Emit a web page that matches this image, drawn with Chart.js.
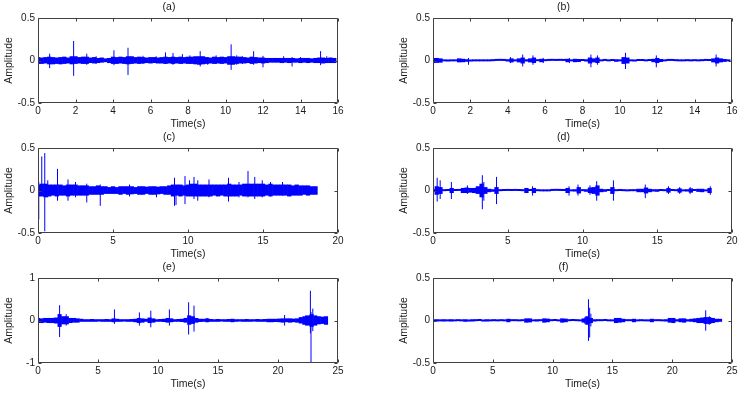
<!DOCTYPE html>
<html><head><meta charset="utf-8">
<script src="https://cdn.jsdelivr.net/npm/chart.js@4.4.1/dist/chart.umd.min.js"></script>
<style>
html,body{margin:0;padding:0;background:#fff;width:741px;height:393px;overflow:hidden;}
canvas{position:absolute;}
</style></head><body>
<canvas id="ca" width="370" height="130" style="left:0;top:0"></canvas>
<canvas id="cb" width="346" height="130" style="left:395px;top:0"></canvas>
<canvas id="cc" width="370" height="130" style="left:0;top:130px"></canvas>
<canvas id="cd" width="346" height="130" style="left:395px;top:130px"></canvas>
<canvas id="ce" width="370" height="133" style="left:0;top:260px"></canvas>
<canvas id="cf" width="346" height="133" style="left:395px;top:260px"></canvas>
<script>
// ===== data =====
// core band: per time-bin upper (Hi) and lower (Lo) amplitude of the dense signal
// spikes: isolated peaks (time, top, bottom)

// (a)
const aStep = 0.2;
const aCoreHi = [0.04,0.035,0.04,0.045,0.04,0.035,0.04,0.045,0.035,0.05,
 0.05,0.04,0.045,0.045,0.035,0.04,0.03,0.035,0.025,0.03,
 0.045,0.04,0.045,0.04,0.05,0.05,0.04,0.045,0.04,0.035,
 0.04,0.04,0.035,0.04,0.045,0.04,0.045,0.04,0.045,0.04,
 0.045,0.045,0.05,0.05,0.05,0.04,0.035,0.045,0.04,0.045,
 0.04,0.05,0.05,0.045,0.045,0.04,0.035,0.045,0.04,0.035,
 0.035,0.03,0.03,0.03,0.03,0.03,0.03,0.03,0.03,0.025,
 0.03,0.03,0.03,0.025,0.03,0.035,0.035,0.03,0.035,0.03];
const aCoreLo = [-0.04,-0.04,-0.035,-0.045,-0.045,-0.04,-0.045,-0.04,-0.035,-0.045,
 -0.04,-0.035,-0.04,-0.04,-0.03,-0.035,-0.03,-0.025,-0.02,-0.03,
 -0.04,-0.04,-0.035,-0.04,-0.045,-0.04,-0.035,-0.04,-0.035,-0.03,
 -0.035,-0.03,-0.035,-0.035,-0.04,-0.035,-0.04,-0.035,-0.04,-0.035,
 -0.04,-0.04,-0.045,-0.05,-0.045,-0.04,-0.035,-0.04,-0.035,-0.04,
 -0.035,-0.05,-0.05,-0.04,-0.035,-0.035,-0.03,-0.04,-0.035,-0.03,
 -0.035,-0.03,-0.025,-0.025,-0.025,-0.03,-0.025,-0.03,-0.025,-0.025,
 -0.03,-0.025,-0.03,-0.025,-0.03,-0.03,-0.035,-0.03,-0.03,-0.03];
const aSpikeT  = [0.62,1.9,2.6,3.1,4.05,4.8,5.6,6.3,6.8,7.2,7.7,8.1,8.65,9.05,9.5,10.3,10.6,10.9,11.5,12.0,13.1,13.55,14.0,15.07,15.4];
const aSpikeHi = [0.08,0.23,0.08,0.05,0.12,0.15,0.055,0.05,0.095,0.087,0.075,0.06,0.11,0.04,0.06,0.19,0.06,0.05,0.11,0.055,0.05,0.04,0.04,0.11,0.05];
const aSpikeLo = [-0.09,-0.18,-0.05,-0.04,-0.055,-0.17,-0.04,-0.03,-0.04,-0.05,-0.04,-0.04,-0.07,-0.05,-0.04,-0.11,-0.05,-0.04,-0.05,-0.08,-0.03,-0.07,-0.03,-0.055,-0.03];

// (b)
const bStep = 0.2;
const bCoreHi = [0.03,0.03,0.025,0.01,0.012,0.01,0.012,0.025,0.02,0.015,
 0.012,0.012,0.01,0.012,0.01,0.012,0.008,0.005,0.004,0.005,
 0.015,0.025,0.012,0.025,0.035,0.015,0.025,0.035,0.01,0.02,
 0.008,0.005,0.004,0.005,0.004,0.005,0.02,0.01,0.02,0.018,
 0.006,0.015,0.035,0.025,0.035,0.01,0.005,0.012,0.006,0.015,
 0.01,0.04,0.035,0.012,0.012,0.006,0.008,0.012,0.006,0.02,
 0.03,0.018,0.01,0.005,0.006,0.01,0.01,0.012,0.01,0.012,
 0.01,0.012,0.008,0.006,0.008,0.025,0.035,0.025,0.018,0.012];
const bCoreLo = [-0.03,-0.028,-0.025,-0.01,-0.012,-0.01,-0.01,-0.022,-0.02,-0.015,
 -0.012,-0.01,-0.01,-0.01,-0.01,-0.01,-0.008,-0.005,-0.004,-0.005,
 -0.012,-0.022,-0.01,-0.022,-0.035,-0.012,-0.022,-0.03,-0.008,-0.02,
 -0.008,-0.005,-0.004,-0.005,-0.004,-0.005,-0.02,-0.01,-0.02,-0.018,
 -0.006,-0.012,-0.035,-0.022,-0.03,-0.01,-0.005,-0.01,-0.006,-0.015,
 -0.01,-0.04,-0.035,-0.01,-0.012,-0.006,-0.006,-0.01,-0.006,-0.02,
 -0.03,-0.018,-0.01,-0.005,-0.005,-0.008,-0.01,-0.01,-0.008,-0.01,
 -0.008,-0.01,-0.008,-0.005,-0.006,-0.022,-0.035,-0.022,-0.016,-0.01];
const bSpikeT  = [0.02,1.9,4.15,4.8,5.35,5.9,7.3,8.45,8.8,10.3,11.95,15.15];
const bSpikeHi = [0.2,0.03,0.04,0.07,0.06,0.03,0.03,0.07,0.06,0.09,0.06,0.07];
const bSpikeLo = [-0.2,-0.05,-0.03,-0.07,-0.05,-0.03,-0.03,-0.08,-0.05,-0.1,-0.08,-0.07];

// (c)
const cStep = 0.25;
const cCoreHi = [0.07,0.08,0.08,0.07,0.07,0.07,0.07,0.06,0.07,0.07,
 0.07,0.06,0.06,0.06,0.05,0.05,0.06,0.05,0.05,0.04,
 0.05,0.04,0.05,0.05,0.05,0.05,0.04,0.05,0.05,0.045,
 0.05,0.05,0.045,0.05,0.05,0.06,0.07,0.07,0.07,0.06,
 0.07,0.08,0.08,0.07,0.07,0.07,0.07,0.07,0.07,0.07,
 0.07,0.08,0.07,0.07,0.07,0.08,0.08,0.08,0.08,0.08,
 0.08,0.07,0.08,0.07,0.07,0.07,0.07,0.07,0.06,0.07,
 0.06,0.06,0.06,0.05,0.05];
const cCoreLo = [-0.07,-0.07,-0.08,-0.07,-0.06,-0.07,-0.06,-0.06,-0.07,-0.06,
 -0.06,-0.06,-0.06,-0.06,-0.05,-0.05,-0.05,-0.05,-0.04,-0.04,
 -0.04,-0.04,-0.05,-0.04,-0.05,-0.045,-0.04,-0.05,-0.05,-0.04,
 -0.05,-0.05,-0.045,-0.04,-0.05,-0.05,-0.07,-0.06,-0.07,-0.06,
 -0.07,-0.07,-0.07,-0.07,-0.07,-0.07,-0.07,-0.06,-0.07,-0.06,
 -0.07,-0.07,-0.07,-0.07,-0.06,-0.07,-0.07,-0.07,-0.07,-0.07,
 -0.07,-0.06,-0.07,-0.06,-0.06,-0.06,-0.06,-0.07,-0.06,-0.06,
 -0.06,-0.05,-0.06,-0.05,-0.05];
const cSpikeT  = [0.05,0.25,0.45,0.65,1.3,2.0,2.5,3.25,4.15,6.1,7.9,9.1,9.2,9.8,10.1,10.4,10.65,11.4,12.7,13.4,14.0,14.45,14.95,15.5,16.3];
const cSpikeHi = [0.1,0.4,0.44,0.12,0.255,0.13,0.1,0.08,0.07,0.07,0.04,0.15,0.06,0.17,0.12,0.16,0.12,0.13,0.15,0.1,0.23,0.16,0.12,0.1,0.1];
const cSpikeLo = [-0.34,-0.05,-0.48,-0.08,-0.12,-0.12,-0.08,-0.14,-0.18,-0.07,-0.08,-0.18,-0.17,-0.16,-0.06,-0.1,-0.12,-0.08,-0.13,-0.08,-0.08,-0.1,-0.08,-0.07,-0.06];

// (d)
const dStep = 0.25;
const dCoreHi = [0.008,0.05,0.04,0.008,0.006,0.03,0.008,0.005,0.03,0.035,
 0.03,0.03,0.05,0.08,0.04,0.02,0.015,0.04,0.01,0.006,
 0.005,0.006,0.005,0.006,0.01,0.03,0.008,0.03,0.01,0.012,
 0.01,0.012,0.005,0.004,0.005,0.006,0.03,0.012,0.015,0.04,
 0.01,0.015,0.035,0.04,0.06,0.02,0.015,0.008,0.04,0.008,
 0.006,0.01,0.01,0.008,0.01,0.02,0.02,0.035,0.02,0.015,
 0.015,0.008,0.01,0.03,0.008,0.01,0.025,0.012,0.015,0.025,
 0.008,0.02,0.02,0.012,0.03];
const dCoreLo = [-0.008,-0.05,-0.04,-0.008,-0.006,-0.03,-0.006,-0.005,-0.03,-0.03,
 -0.025,-0.03,-0.04,-0.08,-0.04,-0.02,-0.015,-0.04,-0.008,-0.006,
 -0.005,-0.006,-0.005,-0.006,-0.008,-0.03,-0.006,-0.03,-0.008,-0.01,
 -0.01,-0.01,-0.005,-0.004,-0.005,-0.006,-0.03,-0.01,-0.012,-0.035,
 -0.008,-0.015,-0.03,-0.04,-0.06,-0.02,-0.015,-0.006,-0.04,-0.008,
 -0.006,-0.008,-0.01,-0.008,-0.008,-0.02,-0.02,-0.035,-0.02,-0.012,
 -0.015,-0.006,-0.008,-0.025,-0.006,-0.008,-0.025,-0.01,-0.012,-0.025,
 -0.006,-0.016,-0.02,-0.01,-0.03];
const dSpikeT  = [0.28,0.48,1.23,2.3,3.3,3.4,4.25,6.66,9.1,9.7,10.5,10.95,12.07,14.2,15.75,16.5,17.2,18.55];
const dSpikeHi = [0.15,0.12,0.1,0.06,0.18,0.1,0.16,0.05,0.05,0.07,0.06,0.11,0.12,0.07,0.05,0.04,0.04,0.05];
const dSpikeLo = [-0.13,-0.1,-0.1,-0.04,-0.22,-0.12,-0.16,-0.06,-0.06,-0.06,-0.05,-0.12,-0.12,-0.09,-0.04,-0.04,-0.04,-0.05];

// (e)
const eStep = 0.3;
const eCoreHi = [0.06,0.05,0.06,0.06,0.06,0.07,0.15,0.1,0.1,0.06,
 0.06,0.05,0.04,0.03,0.03,0.035,0.03,0.03,0.03,0.035,
 0.03,0.05,0.04,0.03,0.03,0.03,0.035,0.04,0.06,0.05,
 0.04,0.07,0.05,0.03,0.035,0.04,0.06,0.05,0.03,0.035,
 0.04,0.06,0.12,0.1,0.06,0.04,0.04,0.05,0.035,0.03,
 0.035,0.03,0.03,0.035,0.04,0.03,0.03,0.03,0.035,0.03,
 0.03,0.035,0.03,0.035,0.04,0.04,0.04,0.045,0.05,0.05,
 0.05,0.045,0.05,0.08,0.1,0.12,0.15,0.12,0.1,0.09,0.1];
const eCoreLo = [-0.06,-0.06,-0.05,-0.06,-0.06,-0.07,-0.15,-0.09,-0.09,-0.06,
 -0.05,-0.05,-0.03,-0.03,-0.03,-0.03,-0.03,-0.025,-0.03,-0.03,
 -0.03,-0.04,-0.03,-0.03,-0.025,-0.03,-0.03,-0.04,-0.06,-0.05,
 -0.03,-0.06,-0.05,-0.03,-0.03,-0.035,-0.05,-0.04,-0.03,-0.03,
 -0.035,-0.05,-0.1,-0.08,-0.05,-0.035,-0.03,-0.04,-0.03,-0.03,
 -0.03,-0.025,-0.03,-0.03,-0.04,-0.03,-0.025,-0.03,-0.03,-0.03,
 -0.025,-0.03,-0.03,-0.03,-0.04,-0.04,-0.035,-0.04,-0.05,-0.04,
 -0.05,-0.04,-0.05,-0.07,-0.1,-0.12,-0.15,-0.12,-0.09,-0.08,-0.1];
const eSpikeT  = [1.8,2.35,6.37,8.45,9.4,10.95,12.55,13.0,14.1,20.55,22.3,22.7,22.75,22.9];
const eSpikeHi = [0.36,0.15,0.26,0.19,0.23,0.26,0.43,0.35,0.06,0.13,0.12,0.7,0.2,0.28];
const eSpikeLo = [-0.39,-0.12,-0.08,-0.12,-0.16,-0.12,-0.33,-0.26,-0.04,-0.12,-0.12,-0.3,-1.0,-0.25];

// (f)
const fStep = 0.3;
const fCoreHi = [0.012,0.015,0.012,0.015,0.01,0.015,0.012,0.008,0.012,0.015,
 0.012,0.015,0.008,0.006,0.012,0.015,0.012,0.008,0.012,0.008,
 0.012,0.02,0.01,0.008,0.012,0.008,0.025,0.025,0.01,0.015,
 0.01,0.025,0.022,0.008,0.006,0.012,0.025,0.022,0.008,0.006,
 0.008,0.01,0.025,0.05,0.03,0.015,0.008,0.01,0.008,0.01,
 0.012,0.03,0.03,0.02,0.008,0.01,0.02,0.012,0.008,0.01,
 0.012,0.02,0.01,0.008,0.012,0.015,0.03,0.03,0.015,0.025,
 0.025,0.015,0.02,0.025,0.03,0.035,0.04,0.04,0.03,0.02,0.02];
const fCoreLo = [-0.012,-0.012,-0.01,-0.012,-0.01,-0.012,-0.01,-0.008,-0.01,-0.015,
 -0.012,-0.012,-0.008,-0.006,-0.012,-0.012,-0.01,-0.008,-0.01,-0.008,
 -0.01,-0.02,-0.008,-0.008,-0.01,-0.008,-0.025,-0.022,-0.01,-0.012,
 -0.008,-0.025,-0.02,-0.008,-0.006,-0.01,-0.025,-0.02,-0.008,-0.006,
 -0.008,-0.01,-0.025,-0.05,-0.03,-0.012,-0.008,-0.008,-0.006,-0.01,
 -0.01,-0.03,-0.025,-0.02,-0.008,-0.008,-0.02,-0.01,-0.008,-0.01,
 -0.01,-0.02,-0.008,-0.008,-0.01,-0.012,-0.025,-0.03,-0.012,-0.02,
 -0.025,-0.012,-0.015,-0.02,-0.03,-0.03,-0.04,-0.04,-0.03,-0.02,-0.015];
const fSpikeT  = [12.7,13.0,13.1,13.2,22.8,23.1];
const fSpikeHi = [0.04,0.25,0.15,0.08,0.12,0.05];
const fSpikeLo = [-0.04,-0.24,-0.2,-0.07,-0.12,-0.05];

// ===== tick labels and texts =====
const xTicks16 = [0,2,4,6,8,10,12,14,16];
const xTicks20 = [0,5,10,15,20];
const xTicks25 = [0,5,10,15,20,25];
const yTicksHalf = [-0.5,0,0.5];
const yTicksOne = [-1,0,1];
const panelTitles = ['(a)','(b)','(c)','(d)','(e)','(f)'];
const xLabel = 'Time(s)';
const yLabel = 'Amplitude';

// ===== drawing =====
const FONT = "'Liberation Sans', Arial, sans-serif";
const BLUE = '#0000ff';
Chart.defaults.color = '#1a1a1a';
Chart.defaults.font.family = FONT;

const boxPlugin = {
  id: 'matlabBox',
  afterDatasetsDraw(chart) {
    const {ctx, chartArea: a, scales: {x, y}} = chart;
    const L = Math.round(a.left) + 0.5, R = Math.round(a.right) - 0.5;
    const T = Math.round(a.top) + 0.5, B = Math.round(a.bottom) - 0.5;
    ctx.save();
    ctx.strokeStyle = '#404040';
    ctx.lineWidth = 1;
    ctx.beginPath();
    ctx.rect(L, T, R - L, B - T);
    x.ticks.forEach(t => {
      const p = Math.round(x.getPixelForValue(t.value)) + 0.5;
      ctx.moveTo(p, B); ctx.lineTo(p, B - 3);
      ctx.moveTo(p, T); ctx.lineTo(p, T + 3);
    });
    y.ticks.forEach(t => {
      const p = Math.round(y.getPixelForValue(t.value)) + 0.5;
      ctx.moveTo(L, p); ctx.lineTo(L + 3, p);
      ctx.moveTo(R, p); ctx.lineTo(R - 3, p);
    });
    ctx.stroke();
    ctx.restore();
  }
};

function coreBars(step, hi, lo) {
  return hi.map((v, i) => ({x: i * step, y: [lo[i], v]}));
}
function spikeSegments(T, H, L) {
  const pts = [];
  T.forEach((t, i) => {
    pts.push({x: t, y: L[i]}, {x: t, y: H[i]}, {x: t, y: null});
  });
  return pts;
}

function makeChart(id, title, step, hi, lo, sT, sH, sL, xTicks, yTicks, padRight, padBottom) {
  new Chart(document.getElementById(id), {
    type: 'line',
    data: { datasets: [
      { type: 'line', data: spikeSegments(sT, sH, sL), borderColor: BLUE, borderWidth: 1,
        pointRadius: 0, spanGaps: false, fill: false, tension: 0 },
      { type: 'bar', data: coreBars(step, hi, lo), backgroundColor: BLUE, borderWidth: 0,
        barPercentage: 1.15, categoryPercentage: 1, minBarLength: 2 }
    ]},
    options: {
      responsive: false,
      animation: false,
      events: [],
      devicePixelRatio: 1,
      layout: { padding: { left: 0, top: 0, right: padRight, bottom: padBottom } },
      plugins: {
        legend: { display: false },
        tooltip: { enabled: false },
        title: {
          display: true, text: title,
          font: { size: 10.5, weight: 'normal', family: FONT },
          padding: { top: 1, bottom: 4.4 }, color: '#1a1a1a'
        }
      },
      scales: {
        x: {
          type: 'linear', offset: false,
          min: xTicks[0], max: xTicks[xTicks.length - 1],
          afterBuildTicks: s => { s.ticks = xTicks.map(v => ({value: v})); },
          afterFit: s => { s.height = 27; },
          grid: { display: false, drawTicks: false, offset: false },
          border: { display: false },
          ticks: { autoSkip: false, maxRotation: 0, padding: 2.5, font: { size: 10 } },
          title: { display: true, text: xLabel, font: { size: 10.5 }, padding: { top: 0, bottom: 0 } }
        },
        y: {
          type: 'linear',
          min: yTicks[0], max: yTicks[yTicks.length - 1],
          afterBuildTicks: s => { s.ticks = yTicks.map(v => ({value: v})); },
          afterFit: s => { s.width = 38; },
          grid: { display: false, drawTicks: false },
          border: { display: false },
          ticks: { padding: 3, font: { size: 10 } },
          title: { display: true, text: yLabel, font: { size: 10.5 }, padding: { top: 3, bottom: 0 } }
        }
      }
    },
    plugins: [boxPlugin]
  });
}

makeChart('ca', panelTitles[0], aStep, aCoreHi, aCoreLo, aSpikeT, aSpikeHi, aSpikeLo, xTicks16, yTicksHalf, 32, 0);
makeChart('cb', panelTitles[1], bStep, bCoreHi, bCoreLo, bSpikeT, bSpikeHi, bSpikeLo, xTicks16, yTicksHalf, 9, 0);
makeChart('cc', panelTitles[2], cStep, cCoreHi, cCoreLo, cSpikeT, cSpikeHi, cSpikeLo, xTicks20, yTicksHalf, 32, 0);
makeChart('cd', panelTitles[3], dStep, dCoreHi, dCoreLo, dSpikeT, dSpikeHi, dSpikeLo, xTicks20, yTicksHalf, 9, 0);
makeChart('ce', panelTitles[4], eStep, eCoreHi, eCoreLo, eSpikeT, eSpikeHi, eSpikeLo, xTicks25, yTicksOne, 32, 3);
makeChart('cf', panelTitles[5], fStep, fCoreHi, fCoreLo, fSpikeT, fSpikeHi, fSpikeLo, xTicks25, yTicksHalf, 9, 3);
</script>
</body></html>
